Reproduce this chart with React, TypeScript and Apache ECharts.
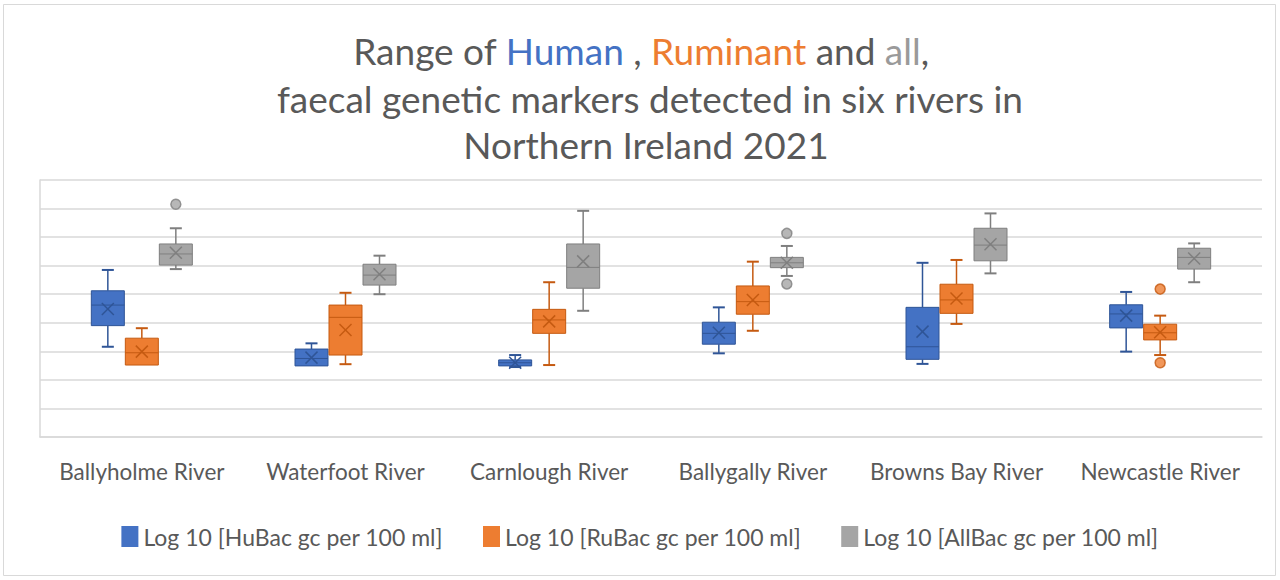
import React, { useEffect, useRef } from "react";
import * as echarts from "echarts";

const rivers = [
  "Ballyholme River",
  "Waterfoot River",
  "Carnlough River",
  "Ballygally River",
  "Browns Bay River",
  "Newcastle River",
];

const seriesNames = [
  "Log 10 [HuBac gc per 100 ml]",
  "Log 10 [RuBac gc per 100 ml]",
  "Log 10 [AllBac gc per 100 ml]",
];

// [min, q1, median, q3, max, mean]
const huBac = [
  [3.16, 3.9, 4.62, 5.12, 5.85, 4.48],
  [2.49, 2.49, 2.75, 3.08, 3.28, 2.78],
  [2.45, 2.49, 2.6, 2.7, 2.87, 2.6],
  [2.93, 3.25, 3.63, 4.02, 4.54, 3.65],
  [2.56, 2.72, 3.16, 4.54, 6.1, 3.69],
  [2.99, 3.82, 4.31, 4.63, 5.08, 4.25],
];
const ruBac = [
  [2.52, 2.52, 2.95, 3.46, 3.81, 2.99],
  [2.55, 2.87, 4.19, 4.62, 5.05, 3.75],
  [2.52, 3.63, 4.1, 4.47, 5.42, 4.05],
  [3.72, 4.3, 4.74, 5.29, 6.14, 4.8],
  [3.96, 4.33, 4.8, 5.35, 6.2, 4.85],
  [2.87, 3.4, 3.65, 3.95, 4.25, 3.67],
];
const allBac = [
  [5.88, 6.02, 6.41, 6.76, 7.31, 6.45],
  [5.0, 5.32, 5.67, 6.05, 6.35, 5.7],
  [4.42, 5.21, 5.94, 6.76, 7.92, 6.15],
  [5.64, 5.93, 6.1, 6.29, 6.69, 6.1],
  [5.73, 6.17, 6.72, 7.31, 7.83, 6.75],
  [5.42, 5.88, 6.29, 6.61, 6.78, 6.25],
];

// outliers: [river index, value]
const huOutliers: number[][] = [];
const ruOutliers = [
  [5, 5.18],
  [5, 2.6],
];
const allOutliers = [
  [0, 8.15],
  [3, 7.13],
  [3, 5.36],
];

const yTicks = { min: 0, max: 9, interval: 1 };

const fills = ["#4472C4", "#ED7D31", "#A5A5A5"];
const strokes = ["#2F5597", "#C55A11", "#7F7F7F"];
const offsets = [-34, 0, 34];
const BOX_W = 33;
const CAP_W = 12;

const textColor = "#595959";
const FONT = "Lato";
const TITLE_SIZE = 37;

function boxSeries(name: string, stats: number[][], idx: number) {
  const data = stats.map((s, i) => [i, ...s]);
  return {
    name,
    type: "custom",
    itemStyle: { color: fills[idx] },
    encode: { x: 0, y: [1, 2, 3, 4, 5] },
    data,
    renderItem: (params: any, api: any) => {
      const cat = api.value(0);
      const v = [1, 2, 3, 4, 5, 6].map((k) => api.value(k));
      const pMin = api.coord([cat, v[0]]);
      const pQ1 = api.coord([cat, v[1]]);
      const pMed = api.coord([cat, v[2]]);
      const pQ3 = api.coord([cat, v[3]]);
      const pMax = api.coord([cat, v[4]]);
      const pMean = api.coord([cat, v[5]]);
      const cx = pMin[0] + offsets[idx];
      const x0 = cx - BOX_W / 2;
      const stroke = strokes[idx];
      const lineStyle = { stroke, lineWidth: 1.5 };
      const children: any[] = [];
      if (Math.abs(pMax[1] - pQ3[1]) > 0.5) {
        children.push({ type: "line", shape: { x1: cx, y1: pQ3[1], x2: cx, y2: pMax[1] }, style: lineStyle });
        children.push({ type: "line", shape: { x1: cx - CAP_W / 2, y1: pMax[1], x2: cx + CAP_W / 2, y2: pMax[1] }, style: { stroke, lineWidth: 2 } });
      }
      if (Math.abs(pMin[1] - pQ1[1]) > 0.5) {
        children.push({ type: "line", shape: { x1: cx, y1: pQ1[1], x2: cx, y2: pMin[1] }, style: lineStyle });
        children.push({ type: "line", shape: { x1: cx - CAP_W / 2, y1: pMin[1], x2: cx + CAP_W / 2, y2: pMin[1] }, style: { stroke, lineWidth: 2 } });
      }
      children.push({
        type: "rect",
        shape: { x: x0, y: pQ3[1], width: BOX_W, height: pQ1[1] - pQ3[1] },
        style: { fill: fills[idx], stroke, lineWidth: 1 },
      });
      children.push({
        type: "line",
        shape: { x1: x0, y1: pMed[1], x2: x0 + BOX_W, y2: pMed[1] },
        style: { stroke, lineWidth: 1 },
      });
      const m = 6;
      children.push({
        type: "line",
        shape: { x1: cx - m, y1: pMean[1] - m, x2: cx + m, y2: pMean[1] + m },
        style: { stroke, lineWidth: 1.5 },
      });
      children.push({
        type: "line",
        shape: { x1: cx - m, y1: pMean[1] + m, x2: cx + m, y2: pMean[1] - m },
        style: { stroke, lineWidth: 1.5 },
      });
      return { type: "group", children };
    },
    z: 3,
  };
}

function outlierSeries(name: string, pts: number[][], idx: number) {
  return {
    name: name + " outliers",
    type: "scatter",
    data: pts,
    symbol: "circle",
    symbolSize: 10,
    symbolOffset: [offsets[idx], 0],
    itemStyle: { color: fills[idx], borderColor: strokes[idx], borderWidth: 1.5 },
    z: 4,
  };
}

export default function App() {
  const ref = useRef<HTMLDivElement>(null);
  useEffect(() => {
    if (!ref.current) return;
    const chart = echarts.init(ref.current, undefined, { renderer: "svg" });
    const option: any = {
      animation: false,
      backgroundColor: "#ffffff",
      textStyle: { fontFamily: FONT },
      graphic: [
        {
          type: "rect",
          shape: { x: 3.5, y: 4.5, width: 1272, height: 571 },
          style: { fill: "none", stroke: "#d9d9d9", lineWidth: 1 },
          silent: true,
        },
        {
          type: "text",
          x: 641,
          y: 50,
          style: {
            text: "{a|Range of }{h|Human}{a| , }{r|Ruminant}{a| and }{g|all}{a|,}",
            textAlign: "center",
            textVerticalAlign: "middle",
            font: `${TITLE_SIZE}px ${FONT}`,
            rich: {
              a: { fill: textColor, fontSize: TITLE_SIZE, fontFamily: FONT },
              h: { fill: "#4472C4", fontSize: TITLE_SIZE, fontFamily: FONT },
              r: { fill: "#ED7D31", fontSize: TITLE_SIZE, fontFamily: FONT },
              g: { fill: "#9a9a9a", fontSize: TITLE_SIZE, fontFamily: FONT },
            },
          },
        },
        {
          type: "text",
          x: 650,
          y: 98,
          style: {
            text: "faecal genetic markers detected in six rivers in",
            textAlign: "center",
            textVerticalAlign: "middle",
            fill: textColor,
            font: `${TITLE_SIZE}px ${FONT}`,
          },
        },
        {
          type: "text",
          x: 646,
          y: 144,
          style: {
            text: "Northern Ireland 2021",
            textAlign: "center",
            textVerticalAlign: "middle",
            fill: textColor,
            font: `${TITLE_SIZE}px ${FONT}`,
          },
        },
      ],
      legend: {
        data: seriesNames,
        bottom: 27,
        left: "center",
        icon: "rect",
        itemWidth: 17,
        itemHeight: 21,
        itemGap: 40,
        textStyle: { color: textColor, fontSize: 23, fontFamily: FONT },
      },
      grid: { left: 40, right: 18, top: 180, bottom: 143 },
      xAxis: {
        type: "category",
        data: rivers,
        axisLine: { show: true, lineStyle: { color: "#d9d9d9", width: 1.5 } },
        axisTick: { show: false },
        axisLabel: {
          color: textColor,
          fontSize: 22.5,
          margin: 23,
          fontFamily: FONT,
          interval: 0,
          hideOverlap: false,
        },
        splitLine: { show: false },
      },
      yAxis: {
        type: "value",
        min: yTicks.min,
        max: yTicks.max,
        interval: yTicks.interval,
        axisLine: { show: true, lineStyle: { color: "#d9d9d9", width: 1.5 } },
        axisTick: { show: false },
        axisLabel: { show: false },
        splitLine: { show: true, lineStyle: { color: "#d9d9d9", width: 1.5 } },
      },
      series: [
        boxSeries(seriesNames[0], huBac, 0),
        boxSeries(seriesNames[1], ruBac, 1),
        boxSeries(seriesNames[2], allBac, 2),
        outlierSeries(seriesNames[0], huOutliers, 0),
        outlierSeries(seriesNames[1], ruOutliers, 1),
        outlierSeries(seriesNames[2], allOutliers, 2),
      ],
    };
    chart.setOption(option);
    return () => chart.dispose();
  }, []);
  return (
    <div
      ref={ref}
      style={{ position: "fixed", left: 0, top: 0, width: 1280, height: 580 }}
    />
  );
}
